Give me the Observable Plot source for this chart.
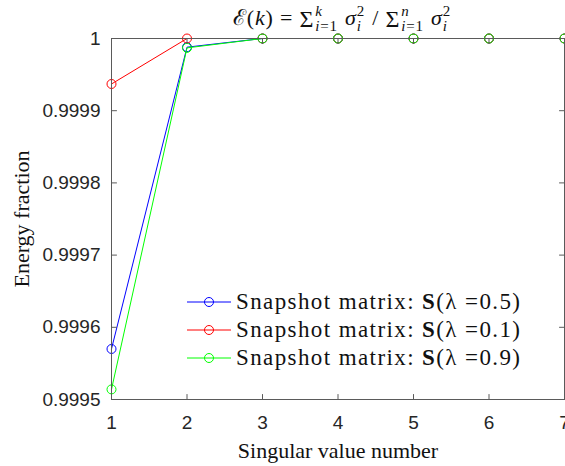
<!DOCTYPE html>
<html><head><meta charset="utf-8">
<script src="https://cdn.jsdelivr.net/npm/d3@7"></script>
<script src="https://cdn.jsdelivr.net/npm/@observablehq/plot@0.6"></script>
<style>body{margin:0;background:#fff}#chart{width:565px;height:466px}</style>
</head><body><div id="chart"></div>
<script>
// ---- data ----
const xValues = [1, 2, 3, 4, 5, 6, 7];
const seriesKeys = ["lambda05", "lambda01", "lambda09"];
const seriesLambdas = ["0.5", "0.1", "0.9"];
const seriesColors = ["#0000ff", "#ff0000", "#00ff00"];
const energyLambda05 = [0.999570, 0.999988, 1, 1, 1, 1, 1];
const energyLambda01 = [0.999937, 1.000000, 1, 1, 1, 1, 1];
const energyLambda09 = [0.999514, 0.999987, 1, 1, 1, 1, 1];
const xTicks = [1, 2, 3, 4, 5, 6, 7];
const yTicks = [0.9995, 0.9996, 0.9997, 0.9998, 0.9999, 1];
const yTickLabels = ["0.9995", "0.9996", "0.9997", "0.9998", "0.9999", "1"];
const xLabel = "Singular value number";
const yLabel = "Energy fraction";
const legendPrefix = "Snapshot matrix: ";

const seriesValues = [energyLambda05, energyLambda01, energyLambda09];
const rows = [];
seriesKeys.forEach((s, si) => seriesValues[si].forEach((v, j) => rows.push({series: s, k: xValues[j], E: v})));

const serif = "'Liberation Serif', 'Times New Roman', serif";
const axisColor = "#5a5a5a";
const textColor = "#262626";
const tickShape = {draw(context, l) { context.moveTo(0, 0); context.lineTo(0, -l); }};
const tickOpts = {length: 5, anchor: "start", shape: tickShape, stroke: axisColor, strokeWidth: 1};

const seriesMarks = [];
seriesKeys.forEach(s => {
  const d = rows.filter(r => r.series === s);
  seriesMarks.push(Plot.line(d, {x: "k", y: "E", stroke: "series", strokeWidth: 1}));
  seriesMarks.push(Plot.dot(d, {x: "k", y: "E", stroke: "series", r: 4.5, strokeWidth: 1, fill: "none"}));
});

const plot = Plot.plot({
  width: 565, height: 466,
  marginLeft: 111, marginRight: 1, marginTop: 38, marginBottom: 67,
  x: {domain: [1, 7], label: null},
  y: {domain: [0.9995, 1], label: null},
  color: {domain: seriesKeys, range: seriesColors},
  style: {fontFamily: "'Liberation Sans', Arial, sans-serif", fontSize: "19px", color: textColor, background: "#fff"},
  marks: [
    ...seriesMarks,
    Plot.frame({stroke: axisColor, strokeWidth: 1}),
    Plot.vector(xTicks, {x: d => d, frameAnchor: "bottom", rotate: 0, ...tickOpts}),
    Plot.vector(xTicks, {x: d => d, frameAnchor: "top", rotate: 180, ...tickOpts}),
    Plot.vector(yTicks, {y: d => d, frameAnchor: "left", rotate: 90, ...tickOpts}),
    Plot.vector(yTicks, {y: d => d, frameAnchor: "right", rotate: -90, ...tickOpts}),
    Plot.axisX({ticks: xTicks, tickSize: 0, tickPadding: 16, tickFormat: d => String(d), fill: textColor, fontSize: 19, label: null}),
    Plot.axisY({ticks: yTicks, tickSize: 0, tickPadding: 11, tickFormat: d => yTickLabels[yTicks.indexOf(d)], fill: textColor, fontSize: 19, label: null}),
    Plot.text([yLabel], {text: d => d, frameAnchor: "left", textAnchor: "middle", lineAnchor: "middle", dx: -90, rotate: -90, fontFamily: serif, fontSize: 22, fill: "#111", letterSpacing: 0.3}),
    Plot.text([xLabel], {text: d => d, frameAnchor: "bottom", textAnchor: "middle", lineAnchor: "bottom", dy: 58, fontFamily: serif, fontSize: 22, fill: "#111", letterSpacing: 1})
  ]
});
document.getElementById("chart").append(plot);

const svg = d3.select(plot);
const xs = plot.scale("x");

// ---- title (math) ----
const titleParts = [
  {runs: [["\u2130", 0], ["(", 0], ["k", 1], [")", 0], ["\u00a0=\u00a0", 0]]},
  {big: "\u03a3"},
  {sup: [["k", 1]], sub: [["i", 1], ["=1", 0]]},
  {runs: [["\u00a0\u03c3", 1]]},
  {sup: [["2", 0]], sub: [["i", 1]]},
  {runs: [["\u00a0/\u00a0", 0]]},
  {big: "\u03a3"},
  {sup: [["n", 1]], sub: [["i", 1], ["=1", 0]]},
  {runs: [["\u00a0\u03c3", 1]]},
  {sup: [["2", 0]], sub: [["i", 1]]}
];
const tg = svg.append("g").attr("fill", "#111").attr("font-family", serif).attr("text-anchor", "start");
const baseY = 25;
let cursor = 0;
function piece(runs, size, y) {
  const t = tg.append("text").attr("x", cursor).attr("y", y).attr("font-size", size).attr("text-anchor", "start").attr("letter-spacing", 0.8).style("white-space", "pre");
  runs.forEach(([s, it]) => t.append("tspan").attr("font-style", it ? "italic" : "normal").text(s));
  return t.node().getComputedTextLength();
}
titleParts.forEach(p => {
  if (p.runs) cursor += piece(p.runs, 22, baseY);
  else if (p.big) cursor += piece([[p.big, 0]], 24, baseY + 2) + 1;
  else {
    const w1 = piece(p.sup, 15, baseY - 9);
    const w2 = piece(p.sub, 15, baseY + 6);
    cursor += Math.max(w1, w2) + 1;
  }
});
tg.attr("transform", `translate(${xs.apply(4) - cursor / 2 + 5},0)`);

// ---- legend ----
const lg = svg.append("g").attr("text-anchor", "start");
seriesKeys.forEach((s, i) => {
  const y = 302 + i * 28;
  lg.append("line").attr("x1", 187).attr("x2", 231).attr("y1", y).attr("y2", y).attr("stroke", seriesColors[i]).attr("stroke-width", 1);
  lg.append("circle").attr("cx", 209).attr("cy", y).attr("r", 4.5).attr("fill", "none").attr("stroke", seriesColors[i]);
  const t = lg.append("text").attr("x", 236).attr("y", y + 7).attr("text-anchor", "start").attr("font-family", serif).attr("font-size", 23).attr("fill", "#111").attr("letter-spacing", 1.4).style("white-space", "pre");
  t.append("tspan").text(legendPrefix);
  t.append("tspan").attr("font-weight", "bold").text("S");
  t.append("tspan").text("(\u03bb\u00a0=" + seriesLambdas[i] + ")");
});
</script>
</body></html>
